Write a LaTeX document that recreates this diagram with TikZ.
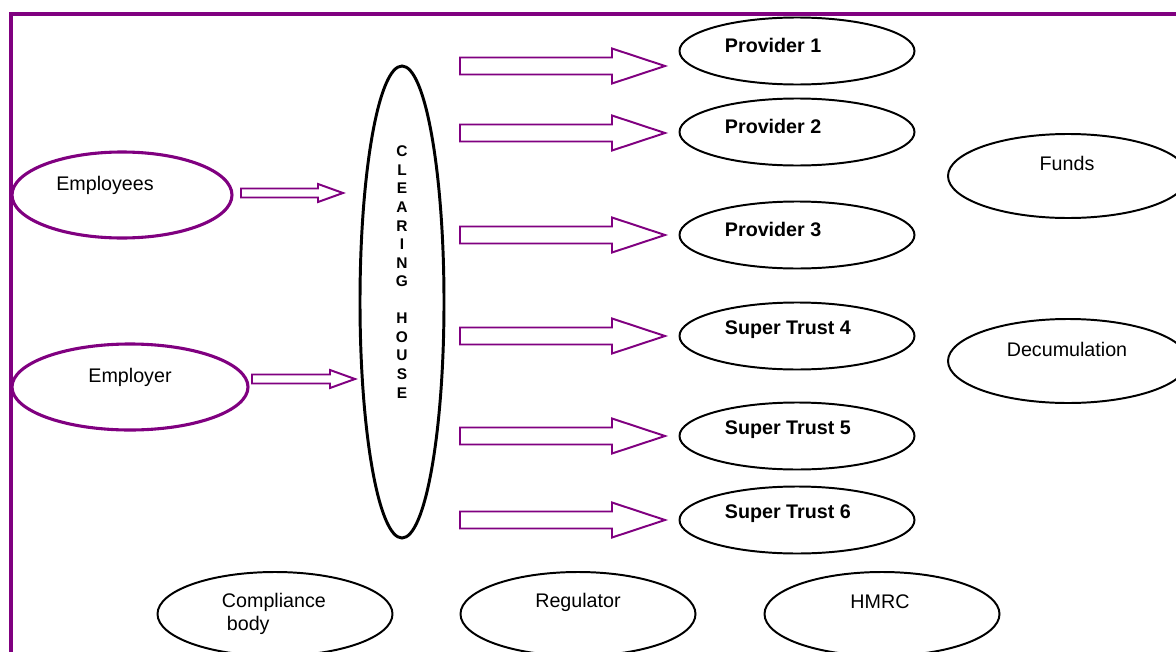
\documentclass[tikz,border=0pt]{standalone}
\usepackage{fontspec}
\setmainfont{Liberation Sans}
\usetikzlibrary{shapes.geometric,calc}

\definecolor{boxpurple}{RGB}{128,0,128}
\newcommand{\pxu}{0.025cm}

\tikzset{
  oval/.style={ellipse, draw, line width=1.4pt, inner sep=0pt, minimum width=235*\pxu, minimum height=67*\pxu},
  bigoval/.style={oval, minimum height=84*\pxu},
  purpleoval/.style={oval, draw=boxpurple, line width=2.2pt, minimum height=86*\pxu},
  ovaltext/.style={font=\fontsize{14}{16.4}\selectfont},
  boldtext/.style={ovaltext, font=\bfseries\fontsize{14}{16.4}\selectfont, anchor=west},
  blockarr/.style={draw=boxpurple, line width=1.4pt, line join=miter},
}

% start, length, shaft half, head half, head length
\newcommand{\blockarrow}[5]{%
  \draw[blockarr] (#1) ++(0,-#3) -- ++(#2-#5,0) -- ++(0,#3-#4) -- ++(#5,#4)
    -- ++(-#5,#4) -- ++(0,#3-#4) -- ++(#5-#2,0) -- cycle;
}

\begin{document}
\begin{tikzpicture}[x=\pxu, y=-\pxu]
    \useasboundingbox (0,0) rectangle (1176,651);
    \clip (0,0) rectangle (1176,651);

    % frame
    \draw[boxpurple, line width=2.3pt] (11,700) -- (11,14) -- (1200,14);

    % contributors
    \node[purpleoval, minimum width=220*\pxu] (employees) at (122,195) {};
    \node[ovaltext] (employeestext) at (105,185) {Employees};
    \node[purpleoval, minimum width=236*\pxu] (employer) at (130,387) {};
    \node[ovaltext] (employertext) at (130,377) {Employer};

    % clearing house
    \node[oval, line width=2.1pt, minimum width=84*\pxu, minimum height=472*\pxu] (clearing) at (402,302) {};
    \node[font=\bfseries\fontsize{11}{13.2}\selectfont, align=center] (clearingtext) at (402,272)
        {C\\L\\E\\A\\R\\I\\N\\G\\[13.2pt]H\\O\\U\\S\\E};

    \coordinate (inemployees) at (241,193);
    \coordinate (inemployer) at (252,379);
    \blockarrow{inemployees}{102}{4.5}{9}{25}
    \blockarrow{inemployer}{103}{4.5}{9}{25}

    % providers and trusts
    \foreach \name/\y [count=\i] in {Provider 1/51, Provider 2/132, Provider 3/235,
                                     Super Trust 4/336, Super Trust 5/436, Super Trust 6/520} {
        \node[oval] (provider\i) at (797,\y) {};
        \node[boldtext] (providertext\i) at (720,\y-6) {\name};
    }
    \foreach \y [count=\i] in {66,133,235,336,436,520} {
        \coordinate (out\i) at (460,\y);
        \blockarrow{out\i}{205}{8.5}{17.5}{53}
    }

    % right side
    \node[bigoval, minimum width=240*\pxu] (funds) at (1068,176) {};
    \node[ovaltext] (fundstext) at (1067,163) {Funds};
    \node[bigoval, minimum width=240*\pxu] (decumulation) at (1068,361) {};
    \node[ovaltext] (decumulationtext) at (1067,349) {Decumulation};

    % bottom row
    \node[bigoval] (compliance) at (275,614) {};
    \node[ovaltext, align=left, anchor=west] (compliancetext) at (217,613.5) {Compliance\\\hspace*{0.25em}body};
    \node[bigoval] (regulator) at (578,614) {};
    \node[ovaltext] (regulatortext) at (578,602) {Regulator};
    \node[bigoval] (hmrc) at (882,614) {};
    \node[ovaltext] (hmrctext) at (880,602) {HMRC};
\end{tikzpicture}
\end{document}
